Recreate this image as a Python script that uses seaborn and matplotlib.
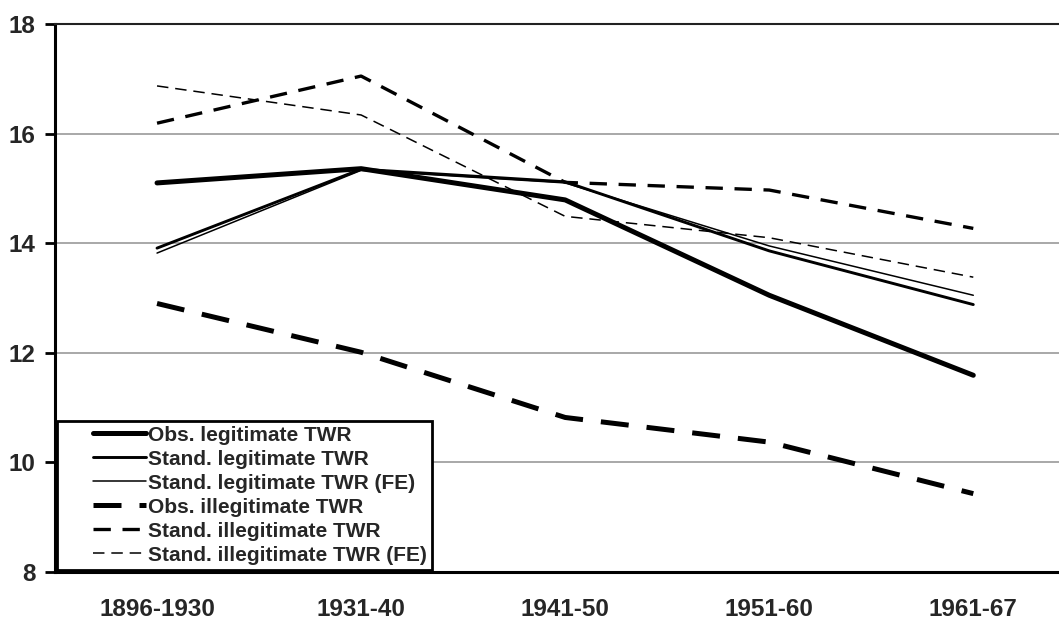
import matplotlib
matplotlib.use("Agg")
import matplotlib.pyplot as plt
import pandas as pd
import seaborn as sns
from matplotlib.legend_handler import HandlerLine2D
from matplotlib.lines import Line2D

periods = ["1896-1930", "1931-40", "1941-50", "1951-60", "1961-67"]
series_names = [
    "Obs. legitimate TWR",
    "Stand. legitimate TWR",
    "Stand. legitimate TWR (FE)",
    "Obs. illegitimate TWR",
    "Stand. illegitimate TWR",
    "Stand. illegitimate TWR (FE)",
]
obs_legit = [15.10, 15.36, 14.79, 13.05, 11.59]
stand_legit = [13.91, 15.35, 15.12, 13.86, 12.88]
stand_legit_fe = [13.82, 15.33, 15.10, 13.95, 13.05]
obs_illegit = [12.90, 12.01, 10.82, 10.37, 9.43]
stand_illegit = [16.19, 17.05, 15.11, 14.97, 14.27]
stand_illegit_fe = [16.87, 16.34, 14.49, 14.10, 13.38]
y_ticks = [8, 10, 12, 14, 16, 18]

all_values = [obs_legit, stand_legit, stand_legit_fe, obs_illegit, stand_illegit, stand_illegit_fe]
rows = []
for name, values in zip(series_names, all_values):
    for i, v in enumerate(values):
        rows.append({"series": name, "pos": i, "value": v})
df = pd.DataFrame(rows)

sns.set_style("white")
plt.rcParams["font.family"] = ["Liberation Sans", "DejaVu Sans"]
plt.rcParams["font.weight"] = "bold"

widths = {
    series_names[0]: 3.6,
    series_names[1]: 2.1,
    series_names[2]: 1.1,
    series_names[3]: 3.6,
    series_names[4]: 2.4,
    series_names[5]: 1.1,
}
dashes = {
    series_names[0]: "",
    series_names[1]: "",
    series_names[2]: "",
    series_names[3]: (5.6, 3.6),
    series_names[4]: (5.2, 3.5),
    series_names[5]: (7.5, 4.5),
}

fig = plt.figure(figsize=(10.59, 6.21), dpi=100)
ax = fig.add_axes([55 / 1059, 1 - 572 / 621, 1 - 55 / 1059, (572 - 24) / 621])

sns.lineplot(
    data=df, x="pos", y="value", hue="series", style="series", size="series",
    hue_order=series_names, style_order=series_names, size_order=series_names,
    palette=["black"] * 6, dashes=dashes, sizes=widths, legend=False, ax=ax,
)

ax.set_xlim(-0.5, 4.42)
ax.set_ylim(8, 18)
ax.set_yticks(y_ticks)
ax.set_yticklabels([str(t) for t in y_ticks], fontsize=17.5, fontweight="bold")
ax.set_xticks(range(len(periods)))
ax.set_xticklabels(periods, fontsize=17.5, fontweight="bold")
ax.set_xticks([i + 0.5 for i in range(len(periods) - 1)], minor=True)
ax.tick_params(axis="x", which="major", length=0, pad=19)
ax.tick_params(axis="x", which="minor", length=7, width=2, direction="out", color="black")
ax.tick_params(axis="y", length=7, width=2, direction="out", color="black", pad=7, left=True)
ax.set_xlabel("")
ax.set_ylabel("")

ax.yaxis.grid(True, color="#9a9a9a", linewidth=1.2)
ax.xaxis.grid(False)
ax.spines["right"].set_visible(False)
ax.spines["top"].set_color("#222222")
ax.spines["top"].set_linewidth(1.5)
ax.spines["left"].set_color("black")
ax.spines["left"].set_linewidth(2.2)
ax.spines["bottom"].set_color("black")
ax.spines["bottom"].set_linewidth(2.2)

leg = ax.legend(
    handles=ax.lines[:6], labels=series_names, loc="lower left",
    bbox_to_anchor=(0.0, 0.0), borderaxespad=0.1, frameon=True, fancybox=False,
    edgecolor="black", handlelength=4.0, handletextpad=0.1, labelspacing=0.24,
    borderpad=0.25, prop={"size": 15.0, "weight": "bold"},
    handler_map={Line2D: HandlerLine2D(xpad=1.45)},
)
leg.get_frame().set_linewidth(2)
leg.get_frame().set_alpha(1)

fig.savefig("out.png", dpi=100)
